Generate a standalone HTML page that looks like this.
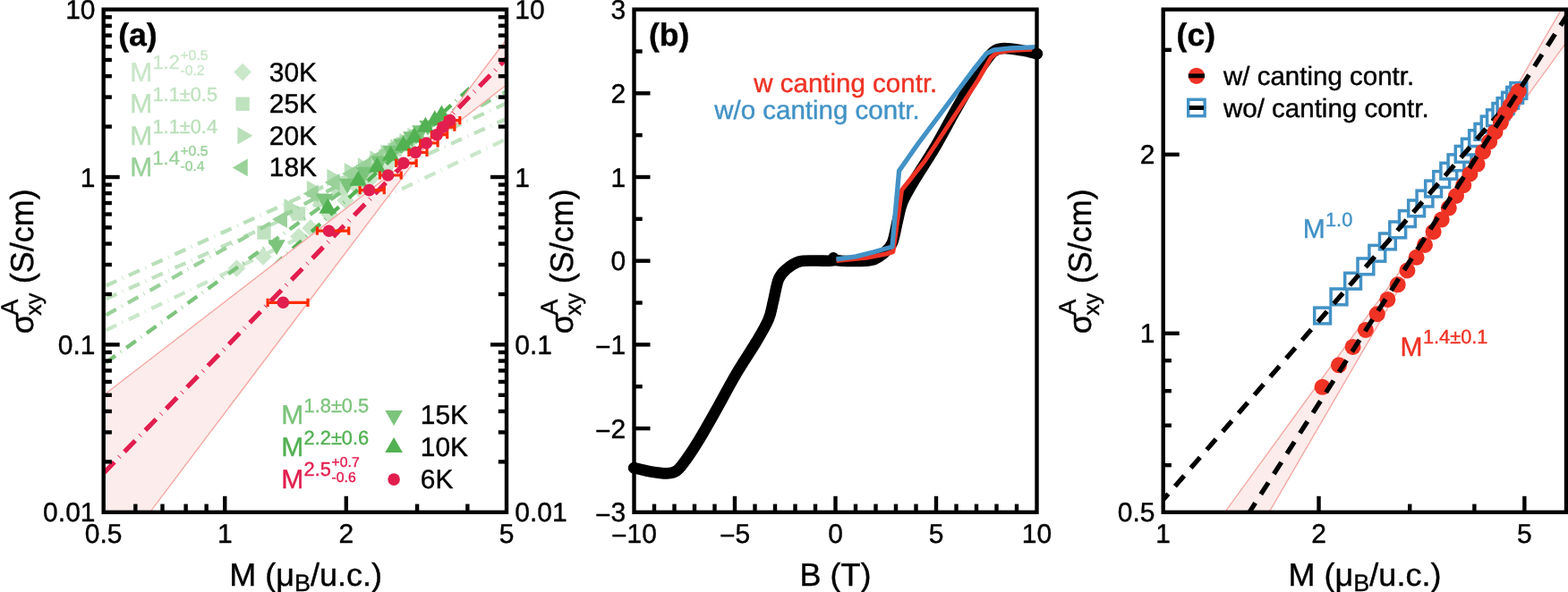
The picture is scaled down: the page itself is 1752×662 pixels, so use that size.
<!DOCTYPE html>
<html lang="en">
<head>
<meta charset="utf-8">
<title>Anomalous Hall conductivity scaling</title>
<style>
html,body{margin:0;padding:0;background:#fff;}
body{width:1752px;height:662px;overflow:hidden;}
svg{display:block;}
text{font-family:"Liberation Sans", "DejaVu Sans", sans-serif;text-rendering:geometricPrecision;stroke:currentColor;stroke-width:0.4px;stroke-linejoin:round;}
</style>
</head>
<body>
<svg width="1752" height="662" viewBox="0 0 1752 662" font-family='"Liberation Sans", "DejaVu Sans", sans-serif'>
<rect width="1752" height="662" fill="#fff"/>
<defs>
<clipPath id="ca"><rect x="115.7" y="10.6" width="450.3" height="562.2"/></clipPath>
<clipPath id="cb"><rect x="708.5" y="10.6" width="450" height="562.2"/></clipPath>
<clipPath id="cc"><rect x="1299.7" y="10.6" width="450.3" height="562.2"/></clipPath>
</defs>
<g clip-path="url(#ca)">
<path d="M118.3,369.36 L566,155.36" fill="none" stroke="#cae7ca" stroke-width="4.3" stroke-dasharray="13.2 7.15 0.7 7.15"/>
<path d="M264.5,290.2 L274.3,300 L264.5,309.8 L254.7,300Z M294,277.2 L303.8,287 L294,296.8 L284.2,287Z M334,254.7 L343.8,264.5 L334,274.3 L324.2,264.5Z M347,245.2 L356.8,255 L347,264.8 L337.2,255Z M368,230.2 L377.8,240 L368,249.8 L358.2,240Z M386,214.2 L395.8,224 L386,233.8 L376.2,224Z M401,201.2 L410.8,211 L401,220.8 L391.2,211Z M414,190.2 L423.8,200 L414,209.8 L404.2,200Z M426,180.2 L435.8,190 L426,199.8 L416.2,190Z M437,171.2 L446.8,181 L437,190.8 L427.2,181Z" fill="#cae7ca" fill-rule="nonzero"/>
<path d="M118.3,334.26 L566,132.8" fill="none" stroke="#c0e2c0" stroke-width="4.3" stroke-dasharray="13.2 7.15 0.7 7.15"/>
<path d="M287.3,252.3 h15.4 v15.4 h-15.4Z M325.8,231.3 h15.4 v15.4 h-15.4Z M350.3,216.3 h15.4 v15.4 h-15.4Z M370.3,203.3 h15.4 v15.4 h-15.4Z M386.3,192.3 h15.4 v15.4 h-15.4Z M400.3,182.8 h15.4 v15.4 h-15.4Z M412.3,174.3 h15.4 v15.4 h-15.4Z M423.3,166.8 h15.4 v15.4 h-15.4Z M433.3,159.8 h15.4 v15.4 h-15.4Z M442.3,153.3 h15.4 v15.4 h-15.4Z" fill="#c0e2c0" fill-rule="nonzero"/>
<path d="M118.3,319.56 L566,115.41" fill="none" stroke="#b9e0b9" stroke-width="4.3" stroke-dasharray="13.2 7.15 0.7 7.15"/>
<path d="M334.32,231.7 L317.34,241.5 L317.34,221.9Z M359.82,211.5 L342.84,221.3 L342.84,201.7Z M382.32,198.6 L365.34,208.4 L365.34,188.8Z M401.72,191.8 L384.74,201.6 L384.74,182Z M416.82,186 L399.84,195.8 L399.84,176.2Z M430.32,178 L413.34,187.8 L413.34,168.2Z M442.32,171.5 L425.34,181.3 L425.34,161.7Z M453.32,165 L436.34,174.8 L436.34,155.2Z M463.32,158.5 L446.34,168.3 L446.34,148.7Z M472.32,152.5 L455.34,162.3 L455.34,142.7Z" fill="#b9e0b9" fill-rule="nonzero"/>
<path d="M118.3,352.33 L566,102.07" fill="none" stroke="#9ad19a" stroke-width="4.3" stroke-dasharray="13.2 7.15 0.7 7.15"/>
<path d="M303.98,245.3 L320.96,235.5 L320.96,255.1Z M338.68,216.5 L355.66,206.7 L355.66,226.3Z M362.68,204 L379.66,194.2 L379.66,213.8Z M382.08,194.3 L399.06,184.5 L399.06,204.1Z M397.68,185 L414.66,175.2 L414.66,194.8Z M411.68,176 L428.66,166.2 L428.66,185.8Z M423.68,168.5 L440.66,158.7 L440.66,178.3Z M434.68,161 L451.66,151.2 L451.66,170.8Z M444.68,154.5 L461.66,144.7 L461.66,164.3Z M453.68,148.5 L470.66,138.7 L470.66,158.3Z" fill="#9ad19a" fill-rule="nonzero"/>
<path d="M118.3,405.58 L566,80.55" fill="none" stroke="#7cc47c" stroke-width="4.3" stroke-dasharray="13.2 7.15 0.7 7.15"/>
<path d="M309,285.32 L299.2,268.34 L318.8,268.34Z M362.5,233.82 L352.7,216.84 L372.3,216.84Z M388.2,216.72 L378.4,199.74 L398,199.74Z M407.2,203.72 L397.4,186.74 L417,186.74Z M424.4,191.52 L414.6,174.54 L434.2,174.54Z M437,179.82 L427.2,162.84 L446.8,162.84Z M449,172.32 L439.2,155.34 L458.8,155.34Z M460,164.32 L450.2,147.34 L469.8,147.34Z M470,157.32 L460.2,140.34 L479.8,140.34Z M478,151.82 L468.2,134.84 L487.8,134.84Z" fill="#7cc47c" fill-rule="nonzero"/>
<path d="M118.3,467.55 L566,61.48" fill="none" stroke="#52b152" stroke-width="4.3" stroke-dasharray="13.2 7.15 0.7 7.15"/>
<path d="M366.2,221.68 L376,238.66 L356.4,238.66Z M400.2,190.78 L410,207.76 L390.4,207.76Z M421.4,175.68 L431.2,192.66 L411.6,192.66Z M436.7,162.88 L446.5,179.86 L426.9,179.86Z M450.8,151.58 L460.6,168.56 L441,168.56Z M463.1,142.18 L472.9,159.16 L453.3,159.16Z M475.4,130.78 L485.2,147.76 L465.6,147.76Z M485.8,123.28 L495.6,140.26 L476,140.26Z M493.4,117.58 L503.2,134.56 L483.6,134.56Z" fill="#52b152" fill-rule="nonzero"/>
<path d="M115.7,442 L474.6,165.29 L566,43.98 L566,94.82 L474.6,165.29 L167.5,572.8 L115.7,572.8Z" fill="#fcecec"/>
<path d="M115.7,442 L566,94.82 M167.5,572.8 L566,43.98" fill="none" stroke="#f5a9a5" stroke-width="1.4"/>
<path d="M115.7,529.18 L566,65.38" fill="none" stroke="#e21e4f" stroke-width="5.2" stroke-dasharray="17.3 7.7 0.8 7.7"/>
<path d="M299.1,338.3 H344 M299.1,333.7 v9.2 M344,333.7 v9.2" fill="none" stroke="#ff2a00" stroke-width="3.2"/>
<path d="M354.4,258.2 H389.7 M354.4,253.6 v9.2 M389.7,253.6 v9.2" fill="none" stroke="#ff2a00" stroke-width="3.2"/>
<path d="M402.1,212.6 H429.3 M402.1,208 v9.2 M429.3,208 v9.2" fill="none" stroke="#ff2a00" stroke-width="3.2"/>
<path d="M424.4,196 H448.2 M424.4,191.4 v9.2 M448.2,191.4 v9.2" fill="none" stroke="#ff2a00" stroke-width="3.2"/>
<path d="M442.7,182.4 H465.2 M442.7,177.8 v9.2 M465.2,177.8 v9.2" fill="none" stroke="#ff2a00" stroke-width="3.2"/>
<path d="M456.9,170.5 H477 M456.9,165.9 v9.2 M477,165.9 v9.2" fill="none" stroke="#ff2a00" stroke-width="3.2"/>
<path d="M469.7,160 H489.1 M469.7,155.4 v9.2 M489.1,155.4 v9.2" fill="none" stroke="#ff2a00" stroke-width="3.2"/>
<path d="M482.4,150.6 H499.7 M482.4,146 v9.2 M499.7,146 v9.2" fill="none" stroke="#ff2a00" stroke-width="3.2"/>
<path d="M490.3,142.1 H507.9 M490.3,137.5 v9.2 M507.9,137.5 v9.2" fill="none" stroke="#ff2a00" stroke-width="3.2"/>
<path d="M497.5,134.6 H513.8 M497.5,130 v9.2 M513.8,130 v9.2" fill="none" stroke="#ff2a00" stroke-width="3.2"/>
<circle cx="316.3" cy="338.3" r="6.8" fill="#e21e4f"/>
<circle cx="367.5" cy="258.2" r="6.8" fill="#e21e4f"/>
<circle cx="412.5" cy="212.6" r="6.8" fill="#e21e4f"/>
<circle cx="433.5" cy="196" r="6.8" fill="#e21e4f"/>
<circle cx="450.8" cy="182.4" r="6.8" fill="#e21e4f"/>
<circle cx="464.3" cy="170.5" r="6.8" fill="#e21e4f"/>
<circle cx="476.4" cy="160" r="6.8" fill="#e21e4f"/>
<circle cx="488.3" cy="150.6" r="6.8" fill="#e21e4f"/>
<circle cx="495.2" cy="142.1" r="6.8" fill="#e21e4f"/>
<circle cx="502.8" cy="134.6" r="6.8" fill="#e21e4f"/>
</g>
<rect x="115.7" y="10.6" width="450.3" height="562.2" fill="none" stroke="#000" stroke-width="4.4"/>
<line x1="115.7" y1="516.39" x2="124.9" y2="516.39" stroke="#000" stroke-width="4.4"/>
<line x1="556.8" y1="516.39" x2="566" y2="516.39" stroke="#000" stroke-width="4.4"/>
<line x1="115.7" y1="483.39" x2="124.9" y2="483.39" stroke="#000" stroke-width="4.4"/>
<line x1="556.8" y1="483.39" x2="566" y2="483.39" stroke="#000" stroke-width="4.4"/>
<line x1="115.7" y1="459.97" x2="124.9" y2="459.97" stroke="#000" stroke-width="4.4"/>
<line x1="556.8" y1="459.97" x2="566" y2="459.97" stroke="#000" stroke-width="4.4"/>
<line x1="115.7" y1="441.81" x2="124.9" y2="441.81" stroke="#000" stroke-width="4.4"/>
<line x1="556.8" y1="441.81" x2="566" y2="441.81" stroke="#000" stroke-width="4.4"/>
<line x1="115.7" y1="426.97" x2="124.9" y2="426.97" stroke="#000" stroke-width="4.4"/>
<line x1="556.8" y1="426.97" x2="566" y2="426.97" stroke="#000" stroke-width="4.4"/>
<line x1="115.7" y1="414.43" x2="124.9" y2="414.43" stroke="#000" stroke-width="4.4"/>
<line x1="556.8" y1="414.43" x2="566" y2="414.43" stroke="#000" stroke-width="4.4"/>
<line x1="115.7" y1="403.56" x2="124.9" y2="403.56" stroke="#000" stroke-width="4.4"/>
<line x1="556.8" y1="403.56" x2="566" y2="403.56" stroke="#000" stroke-width="4.4"/>
<line x1="115.7" y1="393.97" x2="124.9" y2="393.97" stroke="#000" stroke-width="4.4"/>
<line x1="556.8" y1="393.97" x2="566" y2="393.97" stroke="#000" stroke-width="4.4"/>
<line x1="115.7" y1="385.4" x2="133.7" y2="385.4" stroke="#000" stroke-width="4.4"/>
<line x1="548" y1="385.4" x2="566" y2="385.4" stroke="#000" stroke-width="4.4"/>
<line x1="115.7" y1="328.99" x2="124.9" y2="328.99" stroke="#000" stroke-width="4.4"/>
<line x1="556.8" y1="328.99" x2="566" y2="328.99" stroke="#000" stroke-width="4.4"/>
<line x1="115.7" y1="295.99" x2="124.9" y2="295.99" stroke="#000" stroke-width="4.4"/>
<line x1="556.8" y1="295.99" x2="566" y2="295.99" stroke="#000" stroke-width="4.4"/>
<line x1="115.7" y1="272.57" x2="124.9" y2="272.57" stroke="#000" stroke-width="4.4"/>
<line x1="556.8" y1="272.57" x2="566" y2="272.57" stroke="#000" stroke-width="4.4"/>
<line x1="115.7" y1="254.41" x2="124.9" y2="254.41" stroke="#000" stroke-width="4.4"/>
<line x1="556.8" y1="254.41" x2="566" y2="254.41" stroke="#000" stroke-width="4.4"/>
<line x1="115.7" y1="239.57" x2="124.9" y2="239.57" stroke="#000" stroke-width="4.4"/>
<line x1="556.8" y1="239.57" x2="566" y2="239.57" stroke="#000" stroke-width="4.4"/>
<line x1="115.7" y1="227.03" x2="124.9" y2="227.03" stroke="#000" stroke-width="4.4"/>
<line x1="556.8" y1="227.03" x2="566" y2="227.03" stroke="#000" stroke-width="4.4"/>
<line x1="115.7" y1="216.16" x2="124.9" y2="216.16" stroke="#000" stroke-width="4.4"/>
<line x1="556.8" y1="216.16" x2="566" y2="216.16" stroke="#000" stroke-width="4.4"/>
<line x1="115.7" y1="206.57" x2="124.9" y2="206.57" stroke="#000" stroke-width="4.4"/>
<line x1="556.8" y1="206.57" x2="566" y2="206.57" stroke="#000" stroke-width="4.4"/>
<line x1="115.7" y1="198" x2="133.7" y2="198" stroke="#000" stroke-width="4.4"/>
<line x1="548" y1="198" x2="566" y2="198" stroke="#000" stroke-width="4.4"/>
<line x1="115.7" y1="141.59" x2="124.9" y2="141.59" stroke="#000" stroke-width="4.4"/>
<line x1="556.8" y1="141.59" x2="566" y2="141.59" stroke="#000" stroke-width="4.4"/>
<line x1="115.7" y1="108.59" x2="124.9" y2="108.59" stroke="#000" stroke-width="4.4"/>
<line x1="556.8" y1="108.59" x2="566" y2="108.59" stroke="#000" stroke-width="4.4"/>
<line x1="115.7" y1="85.17" x2="124.9" y2="85.17" stroke="#000" stroke-width="4.4"/>
<line x1="556.8" y1="85.17" x2="566" y2="85.17" stroke="#000" stroke-width="4.4"/>
<line x1="115.7" y1="67.01" x2="124.9" y2="67.01" stroke="#000" stroke-width="4.4"/>
<line x1="556.8" y1="67.01" x2="566" y2="67.01" stroke="#000" stroke-width="4.4"/>
<line x1="115.7" y1="52.17" x2="124.9" y2="52.17" stroke="#000" stroke-width="4.4"/>
<line x1="556.8" y1="52.17" x2="566" y2="52.17" stroke="#000" stroke-width="4.4"/>
<line x1="115.7" y1="39.63" x2="124.9" y2="39.63" stroke="#000" stroke-width="4.4"/>
<line x1="556.8" y1="39.63" x2="566" y2="39.63" stroke="#000" stroke-width="4.4"/>
<line x1="115.7" y1="28.76" x2="124.9" y2="28.76" stroke="#000" stroke-width="4.4"/>
<line x1="556.8" y1="28.76" x2="566" y2="28.76" stroke="#000" stroke-width="4.4"/>
<line x1="115.7" y1="19.17" x2="124.9" y2="19.17" stroke="#000" stroke-width="4.4"/>
<line x1="556.8" y1="19.17" x2="566" y2="19.17" stroke="#000" stroke-width="4.4"/>
<line x1="151.36" y1="572.8" x2="151.36" y2="563.6" stroke="#000" stroke-width="4.4"/>
<line x1="181.5" y1="572.8" x2="181.5" y2="563.6" stroke="#000" stroke-width="4.4"/>
<line x1="207.62" y1="572.8" x2="207.62" y2="563.6" stroke="#000" stroke-width="4.4"/>
<line x1="230.65" y1="572.8" x2="230.65" y2="563.6" stroke="#000" stroke-width="4.4"/>
<line x1="251.25" y1="572.8" x2="251.25" y2="554.8" stroke="#000" stroke-width="4.4"/>
<line x1="386.81" y1="572.8" x2="386.81" y2="554.8" stroke="#000" stroke-width="4.4"/>
<line x1="466.1" y1="572.8" x2="466.1" y2="563.6" stroke="#000" stroke-width="4.4"/>
<line x1="522.36" y1="572.8" x2="522.36" y2="563.6" stroke="#000" stroke-width="4.4"/>
<text x="106.5" y="583.3" font-size="30" text-anchor="end">0.01</text>
<text x="575.3" y="583.3" font-size="30" text-anchor="start">0.01</text>
<text x="106.5" y="395.9" font-size="30" text-anchor="end">0.1</text>
<text x="575.3" y="395.9" font-size="30" text-anchor="start">0.1</text>
<text x="106.5" y="208.5" font-size="30" text-anchor="end">1</text>
<text x="575.3" y="208.5" font-size="30" text-anchor="start">1</text>
<text x="106.5" y="21.1" font-size="30" text-anchor="end">10</text>
<text x="575.3" y="21.1" font-size="30" text-anchor="start">10</text>
<text x="115.7" y="606.8" font-size="30" text-anchor="middle">0.5</text>
<text x="251.25" y="606.8" font-size="30" text-anchor="middle">1</text>
<text x="386.81" y="606.8" font-size="30" text-anchor="middle">2</text>
<text x="566" y="606.8" font-size="30" text-anchor="middle">5</text>
<g transform="translate(36.5,293.2) rotate(-90)">
<text x="-80" y="0" font-size="36.0">σ</text>
<text x="-59.5" y="-17" font-size="27">A</text>
<text x="-59.5" y="9" font-size="25">xy</text>
<text x="-24" y="0" font-size="36.0">(S/cm)</text>
</g>
<text x="341.6" y="655" font-size="36.0" text-anchor="middle">M (μ<tspan font-size="27" dy="6.3">B</tspan><tspan dy="-6.3">/u.c.)</tspan></text>
<text x="132.2" y="50.8" font-size="35.6" text-anchor="start" font-weight="bold">(a)</text>
<g fill="#2ca02c" color="#2ca02c" opacity="0.25">
<text x="145.2" y="90.5" font-size="30">M</text>
<text x="170.49" y="77.3" font-size="21.8">1.2</text>
<text x="201.39" y="67.2" font-size="15.8">+0.5</text>
<text x="201.39" y="84.2" font-size="15.8">-0.2</text>
</g>
<path d="M271.1,70.8 L280.9,80.6 L271.1,90.4 L261.3,80.6Z" fill="#2ca02c" fill-opacity="0.25"/>
<text x="300.8" y="90.5" font-size="29.9" text-anchor="start">30K</text>
<g fill="#2ca02c" color="#2ca02c" opacity="0.3">
<text x="145.2" y="126.1" font-size="30">M</text>
<text x="170.49" y="112.9" font-size="21.8">1.1±0.5</text>
</g>
<path d="M263.4,108.5 h15.4 v15.4 h-15.4Z" fill="#2ca02c" fill-opacity="0.3"/>
<text x="300.8" y="126.1" font-size="29.9" text-anchor="start">25K</text>
<g fill="#2ca02c" color="#2ca02c" opacity="0.33">
<text x="145.2" y="161.7" font-size="30">M</text>
<text x="170.49" y="148.5" font-size="21.8">1.1±0.4</text>
</g>
<path d="M282.42,151.8 L265.44,161.6 L265.44,142Z" fill="#2ca02c" fill-opacity="0.33"/>
<text x="300.8" y="161.7" font-size="29.9" text-anchor="start">20K</text>
<g fill="#2ca02c" color="#2ca02c" opacity="0.48">
<text x="145.2" y="197.3" font-size="30">M</text>
<text x="170.49" y="184.1" font-size="21.8">1.4</text>
<text x="201.39" y="174" font-size="15.8">+0.5</text>
<text x="201.39" y="191" font-size="15.8">-0.4</text>
</g>
<path d="M259.78,187.4 L276.76,177.6 L276.76,197.2Z" fill="#2ca02c" fill-opacity="0.48"/>
<text x="300.8" y="197.3" font-size="29.9" text-anchor="start">18K</text>
<g fill="#2ca02c" color="#2ca02c" opacity="0.62">
<text x="314.3" y="474.4" font-size="30">M</text>
<text x="339.59" y="461.2" font-size="21.8">1.8±0.5</text>
</g>
<path d="M440.1,476.02 L430.3,459.04 L449.9,459.04Z" fill="#2ca02c" fill-opacity="0.62"/>
<text x="469.8" y="474.4" font-size="29.9" text-anchor="start">15K</text>
<g fill="#2ca02c" color="#2ca02c" opacity="0.82">
<text x="314.3" y="509.95" font-size="30">M</text>
<text x="339.59" y="496.75" font-size="21.8">2.2±0.6</text>
</g>
<path d="M440.1,488.93 L449.9,505.91 L430.3,505.91Z" fill="#2ca02c" fill-opacity="0.82"/>
<text x="469.8" y="509.95" font-size="29.9" text-anchor="start">10K</text>
<g fill="#e21e4f" color="#e21e4f">
<text x="314.3" y="545.5" font-size="30">M</text>
<text x="339.59" y="532.3" font-size="21.8">2.5</text>
<text x="370.49" y="522.2" font-size="15.8">+0.7</text>
<text x="370.49" y="539.2" font-size="15.8">-0.6</text>
</g>
<circle cx="440.1" cy="536.1" r="6.8" fill="#e21e4f"/>
<text x="469.8" y="545.5" font-size="29.9" text-anchor="start">6K</text>
<circle cx="931.2" cy="288" r="6" fill="#000"/>
<path d="M708.2,523.2 C711,523.83 718.82,525.97 725,527 C731.18,528.03 740.03,529.57 745.3,529.4 C750.57,529.23 752.82,528.9 756.6,526 C760.38,523.1 763.83,517.83 768,512 C772.17,506.17 776.32,499.77 781.6,491 C786.88,482.23 792.92,471.47 799.7,459.4 C806.48,447.33 814.75,431.45 822.3,418.6 C829.85,405.75 838.95,392.5 845,382.3 C851.05,372.1 855.43,364.95 858.6,357.4 C861.77,349.85 862.1,344.57 864,337 C865.9,329.43 867.5,318.03 870,312 C872.5,305.97 875.23,304.03 879,300.8 C882.77,297.57 887.43,294.15 892.6,292.6 C897.77,291.05 904.35,291.65 910,291.5 C915.65,291.35 922.58,291.78 926.5,291.7 C930.42,291.62 931.17,291 933.5,291 C935.83,291 936.58,291.55 940.5,291.7 C944.42,291.85 951.35,292.05 957,291.9 C962.65,291.75 969.23,292.35 974.4,290.8 C979.57,289.25 984.23,285.83 988,282.6 C991.77,279.37 994.5,277.43 997,271.4 C999.5,265.37 1001.1,253.97 1003,246.4 C1004.9,238.83 1005.23,233.55 1008.4,226 C1011.57,218.45 1015.95,211.3 1022,201.1 C1028.05,190.9 1037.15,177.65 1044.7,164.8 C1052.25,151.95 1060.52,136.07 1067.3,124 C1074.08,111.93 1080.12,101.17 1085.4,92.4 C1090.68,83.63 1094.83,77.23 1099,71.4 C1103.17,65.57 1106.62,60.3 1110.4,57.4 C1114.18,54.5 1116.43,54.17 1121.7,54 C1126.97,53.83 1135.82,55.37 1142,56.4 C1148.18,57.43 1156,59.57 1158.8,60.2" fill="none" stroke="#000" stroke-width="12.6" stroke-linecap="round" stroke-linejoin="round"/>
<g clip-path="url(#cb)" fill="none" stroke-linejoin="round">
<path d="M934.5,291.5 L968,288.2 L990,284 L997.9,281.5 L1007.6,212.5 L1033.3,180 L1092.5,90 L1107,64.7 L1114.3,58.7 L1128,56.5 L1157.8,55" stroke="#ee3224" stroke-width="5"/>
<path d="M934.5,289.8 L956.3,286.9 L975.6,282 L996.9,276 L1004.6,190.9 L1026.3,160 L1087.7,78 L1102.2,59.9 L1110.6,55.8 L1128.8,53.8 L1157.8,52.6" stroke="#4292c6" stroke-width="5.3"/>
</g>
<rect x="708.5" y="10.6" width="450" height="562.2" fill="none" stroke="#000" stroke-width="4.4"/>
<circle cx="1158.5" cy="60" r="6.3" fill="#000"/><circle cx="708.5" cy="523.2" r="6.3" fill="#000"/>
<line x1="731" y1="572.8" x2="731" y2="563.6" stroke="#000" stroke-width="4.4"/>
<line x1="753.5" y1="572.8" x2="753.5" y2="563.6" stroke="#000" stroke-width="4.4"/>
<line x1="776" y1="572.8" x2="776" y2="563.6" stroke="#000" stroke-width="4.4"/>
<line x1="798.5" y1="572.8" x2="798.5" y2="563.6" stroke="#000" stroke-width="4.4"/>
<line x1="821" y1="572.8" x2="821" y2="554.8" stroke="#000" stroke-width="4.4"/>
<line x1="843.5" y1="572.8" x2="843.5" y2="563.6" stroke="#000" stroke-width="4.4"/>
<line x1="866" y1="572.8" x2="866" y2="563.6" stroke="#000" stroke-width="4.4"/>
<line x1="888.5" y1="572.8" x2="888.5" y2="563.6" stroke="#000" stroke-width="4.4"/>
<line x1="911" y1="572.8" x2="911" y2="563.6" stroke="#000" stroke-width="4.4"/>
<line x1="933.5" y1="572.8" x2="933.5" y2="554.8" stroke="#000" stroke-width="4.4"/>
<line x1="956" y1="572.8" x2="956" y2="563.6" stroke="#000" stroke-width="4.4"/>
<line x1="978.5" y1="572.8" x2="978.5" y2="563.6" stroke="#000" stroke-width="4.4"/>
<line x1="1001" y1="572.8" x2="1001" y2="563.6" stroke="#000" stroke-width="4.4"/>
<line x1="1023.5" y1="572.8" x2="1023.5" y2="563.6" stroke="#000" stroke-width="4.4"/>
<line x1="1046" y1="572.8" x2="1046" y2="554.8" stroke="#000" stroke-width="4.4"/>
<line x1="1068.5" y1="572.8" x2="1068.5" y2="563.6" stroke="#000" stroke-width="4.4"/>
<line x1="1091" y1="572.8" x2="1091" y2="563.6" stroke="#000" stroke-width="4.4"/>
<line x1="1113.5" y1="572.8" x2="1113.5" y2="563.6" stroke="#000" stroke-width="4.4"/>
<line x1="1136" y1="572.8" x2="1136" y2="563.6" stroke="#000" stroke-width="4.4"/>
<line x1="708.5" y1="525.95" x2="717.7" y2="525.95" stroke="#000" stroke-width="4.4"/>
<line x1="708.5" y1="479.1" x2="726.5" y2="479.1" stroke="#000" stroke-width="4.4"/>
<line x1="708.5" y1="432.25" x2="717.7" y2="432.25" stroke="#000" stroke-width="4.4"/>
<line x1="708.5" y1="385.4" x2="726.5" y2="385.4" stroke="#000" stroke-width="4.4"/>
<line x1="708.5" y1="338.55" x2="717.7" y2="338.55" stroke="#000" stroke-width="4.4"/>
<line x1="708.5" y1="291.7" x2="726.5" y2="291.7" stroke="#000" stroke-width="4.4"/>
<line x1="708.5" y1="244.85" x2="717.7" y2="244.85" stroke="#000" stroke-width="4.4"/>
<line x1="708.5" y1="198" x2="726.5" y2="198" stroke="#000" stroke-width="4.4"/>
<line x1="708.5" y1="151.15" x2="717.7" y2="151.15" stroke="#000" stroke-width="4.4"/>
<line x1="708.5" y1="104.3" x2="726.5" y2="104.3" stroke="#000" stroke-width="4.4"/>
<line x1="708.5" y1="57.45" x2="717.7" y2="57.45" stroke="#000" stroke-width="4.4"/>
<text x="708.5" y="606.8" font-size="30" text-anchor="middle"><tspan dy="2.3">−</tspan><tspan dy="-2.3">10</tspan></text>
<text x="821" y="606.8" font-size="30" text-anchor="middle"><tspan dy="2.3">−</tspan><tspan dy="-2.3">5</tspan></text>
<text x="933.5" y="606.8" font-size="30" text-anchor="middle">0</text>
<text x="1046" y="606.8" font-size="30" text-anchor="middle">5</text>
<text x="1158.5" y="606.8" font-size="30" text-anchor="middle">10</text>
<text x="699.3" y="583.3" font-size="30" text-anchor="end"><tspan dy="2.3">−</tspan><tspan dy="-2.3">3</tspan></text>
<text x="699.3" y="489.6" font-size="30" text-anchor="end"><tspan dy="2.3">−</tspan><tspan dy="-2.3">2</tspan></text>
<text x="699.3" y="395.9" font-size="30" text-anchor="end"><tspan dy="2.3">−</tspan><tspan dy="-2.3">1</tspan></text>
<text x="699.3" y="302.2" font-size="30" text-anchor="end">0</text>
<text x="699.3" y="208.5" font-size="30" text-anchor="end">1</text>
<text x="699.3" y="114.8" font-size="30" text-anchor="end">2</text>
<text x="699.3" y="21.1" font-size="30" text-anchor="end">3</text>
<g transform="translate(640.2,293.2) rotate(-90)">
<text x="-80" y="0" font-size="36.0">σ</text>
<text x="-59.5" y="-17" font-size="27">A</text>
<text x="-59.5" y="9" font-size="25">xy</text>
<text x="-24" y="0" font-size="36.0">(S/cm)</text>
</g>
<text x="933.5" y="655" font-size="36.0" text-anchor="middle">B (T)</text>
<text x="725" y="50.8" font-size="35.6" text-anchor="start" font-weight="bold">(b)</text>
<text x="842.3" y="103.2" font-size="29.5" text-anchor="start" fill="#ee3224" color="#ee3224">w canting contr.</text>
<text x="798.2" y="132.7" font-size="29.5" text-anchor="start" fill="#4292c6" color="#4292c6">w/o canting contr.</text>
<g clip-path="url(#cc)">
<path d="M1368.6,572.8 L1615.4,232.96 L1418,572.8Z M1615.4,232.96 L1746.09,8 L1754,8 L1754,42.1Z" fill="#fcecec"/>
<path d="M1368.6,572.8 L1754,42.1 M1418,572.8 L1746.09,8" fill="none" stroke="#f5a9a5" stroke-width="1.4"/>
<g fill="#fff" stroke="#4292c6" stroke-width="3.5">
<rect x="1468.7" y="344.1" width="17.8" height="17.8"/>
<rect x="1487.1" y="323" width="17.8" height="17.8"/>
<rect x="1502.7" y="305.3" width="17.8" height="17.8"/>
<rect x="1517" y="289" width="17.8" height="17.8"/>
<rect x="1529.9" y="274.38" width="17.8" height="17.8"/>
<rect x="1541.5" y="261.04" width="17.8" height="17.8"/>
<rect x="1552.8" y="248.03" width="17.8" height="17.8"/>
<rect x="1563.5" y="235.72" width="17.8" height="17.8"/>
<rect x="1573.7" y="223.99" width="17.8" height="17.8"/>
<rect x="1583.1" y="213.17" width="17.8" height="17.8"/>
<rect x="1592.7" y="202.13" width="17.8" height="17.8"/>
<rect x="1601.8" y="191.66" width="17.8" height="17.8"/>
<rect x="1609.9" y="182.34" width="17.8" height="17.8"/>
<rect x="1618.1" y="172.91" width="17.8" height="17.8"/>
<rect x="1626.3" y="163.47" width="17.8" height="17.8"/>
<rect x="1633.5" y="155.19" width="17.8" height="17.8"/>
<rect x="1641.7" y="145.76" width="17.8" height="17.8"/>
<rect x="1648.1" y="138.39" width="17.8" height="17.8"/>
<rect x="1655.3" y="130.11" width="17.8" height="17.8"/>
<rect x="1661.6" y="122.86" width="17.8" height="17.8"/>
<rect x="1668" y="115.5" width="17.8" height="17.8"/>
<rect x="1673.1" y="109.63" width="17.8" height="17.8"/>
<rect x="1678.6" y="103.3" width="17.8" height="17.8"/>
<rect x="1683.7" y="97.43" width="17.8" height="17.8"/>
<rect x="1687.9" y="92.6" width="17.8" height="17.8"/>
</g>
<path d="M1299.7,558.87 L1697,101.77" fill="none" stroke="#000" stroke-width="5.3" stroke-dasharray="15.6 11.45" stroke-dashoffset="6.95"/>
<g fill="#ee3224">
<circle cx="1477.6" cy="432.8" r="9"/>
<circle cx="1496" cy="408.3" r="9"/>
<circle cx="1511.6" cy="387.9" r="9"/>
<circle cx="1525.9" cy="368.9" r="9"/>
<circle cx="1538.8" cy="351.2" r="9"/>
<circle cx="1550.4" cy="334.9" r="9"/>
<circle cx="1561.7" cy="318.3" r="9"/>
<circle cx="1572.4" cy="302.5" r="9"/>
<circle cx="1582.6" cy="287.8" r="9"/>
<circle cx="1592" cy="273.9" r="9"/>
<circle cx="1601.6" cy="259.2" r="9"/>
<circle cx="1610.7" cy="245.6" r="9"/>
<circle cx="1618.8" cy="232.6" r="9"/>
<circle cx="1627" cy="219" r="9"/>
<circle cx="1635.2" cy="207.2" r="9"/>
<circle cx="1642.4" cy="194.5" r="9"/>
<circle cx="1650.6" cy="183.6" r="9"/>
<circle cx="1657" cy="169.7" r="9"/>
<circle cx="1664.2" cy="158.3" r="9"/>
<circle cx="1670.5" cy="147.7" r="9"/>
<circle cx="1676.9" cy="137.1" r="9"/>
<circle cx="1682" cy="126.5" r="9"/>
<circle cx="1687.5" cy="118.1" r="9"/>
<circle cx="1692.6" cy="109.6" r="9"/>
<circle cx="1696.8" cy="102" r="9"/>
</g>
<path d="M1379.68,598.39 L1756,9.22" fill="none" stroke="#000" stroke-width="5.3" stroke-dasharray="15.6 11.45"/>
</g>
<rect x="1299.7" y="10.6" width="450.3" height="562.2" fill="none" stroke="#000" stroke-width="4.4"/>
<line x1="1299.7" y1="520.19" x2="1308.9" y2="520.19" stroke="#000" stroke-width="4.4"/>
<line x1="1299.7" y1="475.71" x2="1308.9" y2="475.71" stroke="#000" stroke-width="4.4"/>
<line x1="1299.7" y1="437.18" x2="1308.9" y2="437.18" stroke="#000" stroke-width="4.4"/>
<line x1="1299.7" y1="403.2" x2="1308.9" y2="403.2" stroke="#000" stroke-width="4.4"/>
<line x1="1299.7" y1="372.8" x2="1317.7" y2="372.8" stroke="#000" stroke-width="4.4"/>
<line x1="1299.7" y1="172.79" x2="1317.7" y2="172.79" stroke="#000" stroke-width="4.4"/>
<line x1="1299.7" y1="55.8" x2="1308.9" y2="55.8" stroke="#000" stroke-width="4.4"/>
<line x1="1473.54" y1="572.8" x2="1473.54" y2="554.8" stroke="#000" stroke-width="4.4"/>
<line x1="1575.24" y1="572.8" x2="1575.24" y2="563.6" stroke="#000" stroke-width="4.4"/>
<line x1="1647.39" y1="572.8" x2="1647.39" y2="563.6" stroke="#000" stroke-width="4.4"/>
<line x1="1703.36" y1="572.8" x2="1703.36" y2="554.8" stroke="#000" stroke-width="4.4"/>
<text x="1290.5" y="583.3" font-size="30" text-anchor="end">0.5</text>
<text x="1290.5" y="383.3" font-size="30" text-anchor="end">1</text>
<text x="1290.5" y="183.29" font-size="30" text-anchor="end">2</text>
<text x="1299.7" y="606.8" font-size="30" text-anchor="middle">1</text>
<text x="1473.54" y="606.8" font-size="30" text-anchor="middle">2</text>
<text x="1703.36" y="606.8" font-size="30" text-anchor="middle">5</text>
<g transform="translate(1218.8,293.2) rotate(-90)">
<text x="-80" y="0" font-size="36.0">σ</text>
<text x="-59.5" y="-17" font-size="27">A</text>
<text x="-59.5" y="9" font-size="25">xy</text>
<text x="-24" y="0" font-size="36.0">(S/cm)</text>
</g>
<text x="1525" y="655" font-size="36.0" text-anchor="middle">M (μ<tspan font-size="27" dy="6.3">B</tspan><tspan dy="-6.3">/u.c.)</tspan></text>
<text x="1314.6" y="50.8" font-size="35.6" text-anchor="start" font-weight="bold">(c)</text>
<circle cx="1336.9" cy="84.8" r="9.1" fill="#ee3224"/>
<path d="M1327.8,84.8 H1346" stroke="#000" stroke-width="4.9" fill="none"/>
<rect x="1327.7" y="111.3" width="18.4" height="18.4" fill="none" stroke="#4292c6" stroke-width="3.4"/>
<path d="M1328.8,120.5 H1345" stroke="#000" stroke-width="4.9" fill="none"/>
<text x="1367" y="94.6" font-size="29.5" text-anchor="start">w/ canting contr.</text>
<text x="1367" y="130.5" font-size="29.5" text-anchor="start">wo/ canting contr.</text>
<g fill="#4292c6" color="#4292c6">
<text x="1455.7" y="266.3" font-size="30">M</text>
<text x="1480.99" y="253.1" font-size="21.8">1.0</text>
</g>
<g fill="#ee3224" color="#ee3224">
<text x="1564.6" y="397.6" font-size="30">M</text>
<text x="1589.89" y="384.4" font-size="21.8">1.4±0.1</text>
</g>
</svg>
</body>
</html>
